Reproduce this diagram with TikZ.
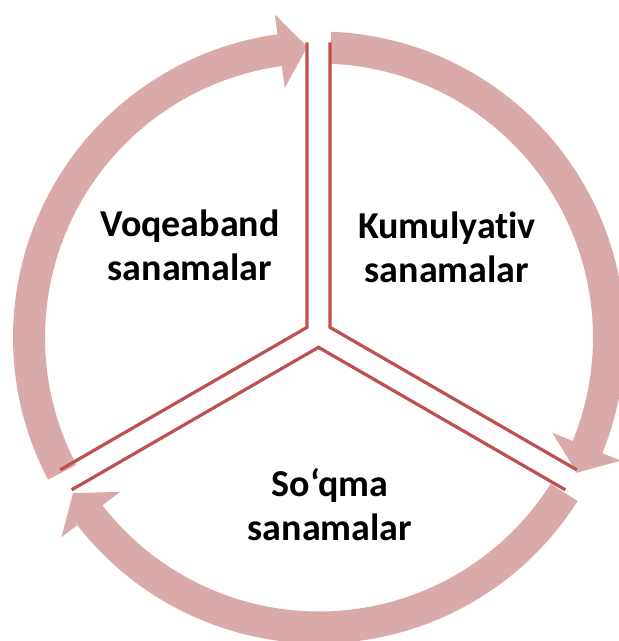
\documentclass[tikz,border=0pt]{standalone}
\usepackage{fontspec}
\setmainfont{Carlito}[Ligatures={NoCommon,NoRare}]
\definecolor{ringpink}{RGB}{218,170,171}
\definecolor{edgered}{RGB}{192,80,77}
\begin{document}
\begin{tikzpicture}[x=1pt,y=1pt,
  ringarrow/.style={fill=ringpink},
  edgeline/.style={draw=edgered,line width=3.2pt,line join=miter},
  lbl/.style={font=\fontsize{38}{44}\selectfont\bfseries,align=center,text=black,inner sep=0pt}]
\useasboundingbox (0,0) rectangle (619,641);
% three curved arrows around the ring (centre of ring)
\begin{scope}[shift={(319,303.5)}]
  % arrow 1: lower-left -> top
  \fill[ringarrow] (207.7:306) arc[start angle=207.7,end angle=97.8,radius=306]
    -- (97.8:326) -- (92.3:291) -- (97.8:252) -- (97.8:274)
    arc[start angle=97.8,end angle=207.7,radius=274] -- cycle;
  % arrow 2: top -> lower-right
  \fill[ringarrow] (87.7:306) arc[start angle=87.7,end angle=-22.2,radius=306]
    -- (-22.2:326) -- (-27.7:291) -- (-22.2:252) -- (-22.2:274)
    arc[start angle=-22.2,end angle=87.7,radius=274] -- cycle;
  % arrow 3: lower-right -> lower-left
  \fill[ringarrow] (-32.3:306) arc[start angle=-32.3,end angle=-142.2,radius=306]
    -- (-142.2:326) -- (-147.7:291) -- (-142.2:252) -- (-142.2:274)
    arc[start angle=-142.2,end angle=-32.3,radius=274] -- cycle;
\end{scope}
% sector edges
\coordinate (ulapex) at (307,313.65);
\coordinate (urapex) at (330,313.65);
\coordinate (bapex) at (318.5,293.7);
\coordinate (ultop) at (307,598.65);
\coordinate (ulleft) at (60.2,171.15);
\coordinate (urtop) at (330,598.65);
\coordinate (urright) at (576.8,171.15);
\coordinate (bleft) at (71.7,151.2);
\coordinate (bright) at (565.3,151.2);
\draw[edgeline] (ultop) -- (ulapex) -- (ulleft);
\draw[edgeline] (urtop) -- (urapex) -- (urright);
\draw[edgeline] (bleft) -- (bapex) -- (bright);
% labels
\node[lbl] (voq) at (190,396) {Voqeaband\\sanamalar};
\node[lbl] (kum) at (447,394) {Kumulyat\kern0pt iv\\sanamalar};
\node[lbl] (soq) at (330,136) {So‘qma\\sanamalar};
\end{tikzpicture}
\end{document}
